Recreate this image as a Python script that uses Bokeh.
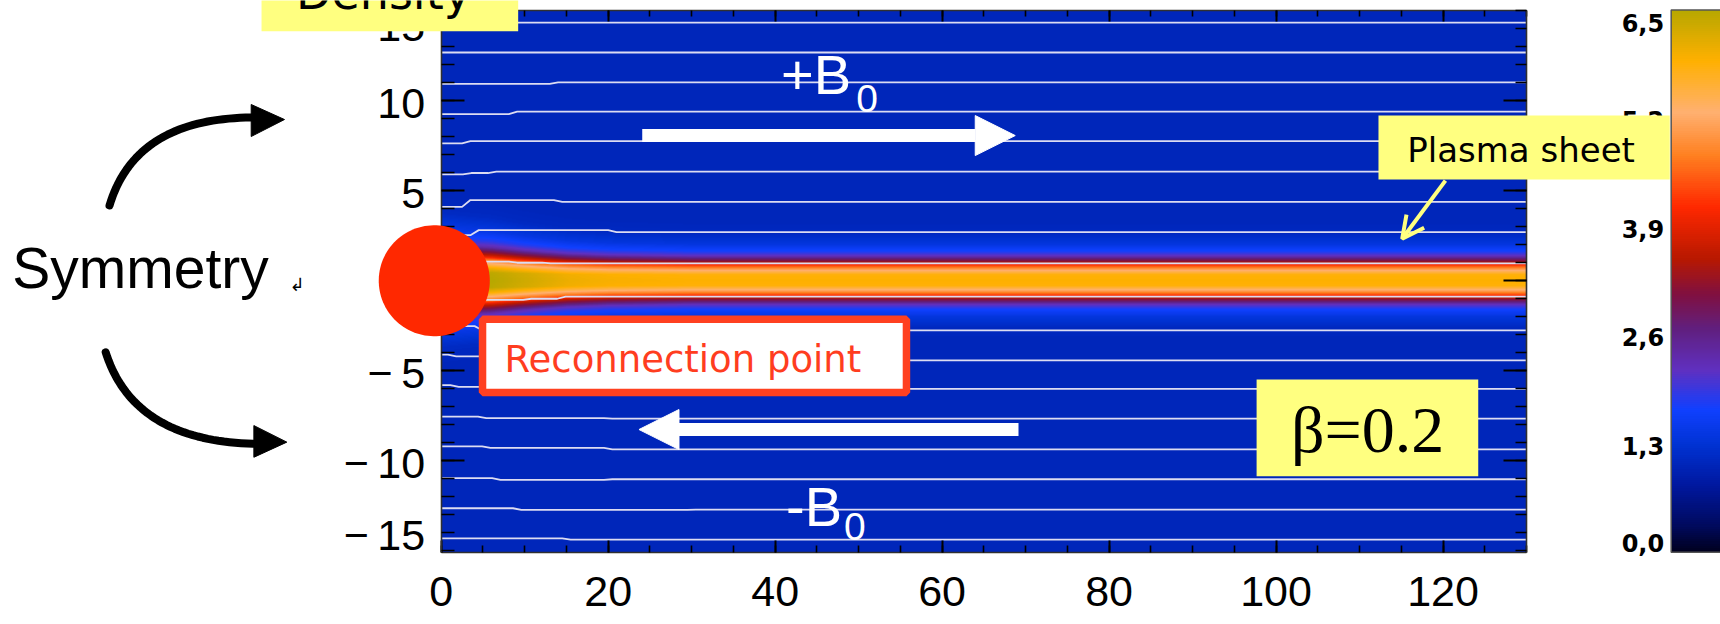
import numpy as np
from bokeh.plotting import figure
from bokeh.models import (LinearColorMapper, LinearAxis, Range1d, SingleIntervalTicker, FixedTicker,
                          Label, BoxAnnotation, PolyAnnotation, Arrow, NormalHead, OpenHead)
from bokeh.embed import file_html
from bokeh.resources import INLINE

# ---------------- data ----------------
X_RANGE = (0.0, 130.0)
Y_RANGE = (-15.1, 15.0)
X_TICK_INTERVAL = 20
Y_MAJOR_TICKS = [-15, -10, -5, 0, 5, 10, 15]
Y_MINOR_TICKS = list(range(-15, 16))
Y_TICK_LABELS = ["\u2212\u200915", "\u2212\u200910", "\u2212\u20095", "0", "5", "10", "15"]
CB_TICKS = [0.0, 1.3, 2.6, 3.9, 5.2, 6.5]
CB_TICK_LABELS = ["0,0", "1,3", "2,6", "3,9", "5,2", "6,5"]
CB_RANGE = (0.0, 6.5)

# colour table (value -> colour)
CMAP_VALUES = [0.0, 0.32, 0.8, 1.27, 1.70, 2.18, 2.66, 3.09, 3.52, 4.14, 4.76, 5.28, 5.9, 6.43, 6.5]
CMAP_COLORS = ["#000020", "#000a60", "#0018a0", "#0032d2", "#1040ff", "#6030c0", "#602080",
               "#801040", "#b81800", "#ff2800", "#ff8020", "#ffb070", "#ffb000", "#c0a800", "#b8a800"]

# density across the plasma sheet (|y|) far from the x-line
SHEET_ABS_Y = [0.0, 0.3, 0.5, 0.65, 0.85, 0.95, 1.05, 1.2, 1.35, 1.6, 2.0, 2.6, 3.2, 15.2]
SHEET_DENSITY = [5.9, 5.85, 5.4, 4.9, 4.2, 3.6, 3.2, 2.7, 2.2, 1.75, 1.4, 1.12, 1.06, 1.05]
BACKGROUND_DENSITY = 1.05
# thickening and peak of the sheet near the reconnection point
SHEET_X = [0, 6, 10, 15, 20, 30, 130]
SHEET_WIDTH = [1.45, 1.35, 1.22, 1.1, 1.04, 1.0, 1.0]
SHEET_PEAK = [6.5, 6.5, 6.3, 6.05, 5.95, 5.9, 5.9]

# magnetic field lines: levels and the x where each level steps
FIELD_LEVELS = [[14.30], [12.64], [10.90, 10.98], [9.22, 9.36], [7.60, 7.72],
                [5.88, 5.95, 6.03], [4.07, 4.45, 4.35], [2.50, 2.78, 2.67], [1.03, 0.97, 0.93],
                [-1.09, -1.03, -0.91], [-2.55, -2.79], [-4.13, -4.23, -4.45], [-5.83, -5.92, -6.03],
                [-7.57, -7.66, -7.69], [-9.22, -9.31, -9.39], [-10.99, -11.08, -11.05],
                [-12.66, -12.75, -12.74], [-14.33, -14.40]]
FIELD_BREAKS = [[], [], [13.5], [8.6], [3.0],
                [3.1, 6.1], [3.0, 14.0], [4.0, 20.5], [8.6, 12.6],
                [10.3, 14.4], [4.5], [1.3, 20.0], [1.6, 20.0],
                [4.9, 20.0], [5.4, 20.0], [6.6, 20.0],
                [9.1, 30.0], [15.0]]

# ---------------- page layout (pixels) ----------------
W, H = 1720, 624
FRAME_LEFT, FRAME_RIGHT = 440.7, 1526.0     # where x = 0 and x = 130 fall
FRAME_TOP, FRAME_BOTTOM = 9.5, 551.7        # where y = 15 and y = -15.1 fall
kx = (FRAME_RIGHT - FRAME_LEFT) / (X_RANGE[1] - X_RANGE[0])
ky = (FRAME_BOTTOM - FRAME_TOP) / (Y_RANGE[1] - Y_RANGE[0])
x_lo = X_RANGE[0] - FRAME_LEFT / kx
x_hi = x_lo + W / kx
y_hi = Y_RANGE[1] + FRAME_TOP / ky
y_lo = y_hi - H / ky
cb_scale = (CB_RANGE[1] - CB_RANGE[0]) / (Y_RANGE[1] - Y_RANGE[0])
cb_lo = CB_RANGE[0] + (y_lo - Y_RANGE[0]) * cb_scale
cb_hi = CB_RANGE[0] + (y_hi - Y_RANGE[0]) * cb_scale
kcb = ky / cb_scale
CB_LEFT = 147.33            # colour bar left edge, in x units
CB_RIGHT = x_hi + 5

def lift(size_px):
    """vertical correction (data units) so that a label's baseline sits at its y"""
    return 0.34 * size_px / ky

def shifted(lo, hi, down_px, k):
    """same range, drawn down_px pixels lower (used to nudge tick labels like the original)"""
    d = down_px / k
    return Range1d(lo + d, hi + d)

# ---------------- colour mapper ----------------
def hex2rgb(h):
    return [int(h[i:i + 2], 16) for i in (1, 3, 5)]

rgb = np.array([hex2rgb(c) for c in CMAP_COLORS], dtype=float)
levels = np.linspace(CB_RANGE[0], CB_RANGE[1], 256)
palette = []
for v in levels:
    r, g, b = (np.interp(v, CMAP_VALUES, rgb[:, k]) for k in range(3))
    palette.append("#%02x%02x%02x" % (int(round(r)), int(round(g)), int(round(b))))
mapper = LinearColorMapper(palette=palette, low=CB_RANGE[0], high=CB_RANGE[1])

# ---------------- density raster ----------------
nx, ny = 520, 542
xs = np.linspace(X_RANGE[0], X_RANGE[1], nx)
ys = np.linspace(Y_RANGE[0], Y_RANGE[1], ny)
w = np.interp(xs, SHEET_X, SHEET_WIDTH)
pk = np.interp(xs, SHEET_X, SHEET_PEAK)
prof = np.interp(np.abs(ys)[:, None] / w[None, :], SHEET_ABS_Y, SHEET_DENSITY)
dens = BACKGROUND_DENSITY + (prof - BACKGROUND_DENSITY) * (pk[None, :] - BACKGROUND_DENSITY) / (SHEET_DENSITY[0] - BACKGROUND_DENSITY)

# ---------------- figure ----------------
p = figure(width=W, height=H, x_range=Range1d(x_lo, x_hi), y_range=Range1d(y_lo, y_hi),
           min_border=0, toolbar_location=None, output_backend="svg",
           x_axis_location=None, y_axis_location=None)
p.outline_line_color = None
p.grid.visible = False
p.background_fill_color = "white"
p.border_fill_color = "white"
p.extra_y_ranges = {
    "ylab_mid": shifted(y_lo, y_hi, 2.5, ky),
    "ylab_top": shifted(y_lo, y_hi, 16.5, ky),
    "ylab_bot": shifted(y_lo, y_hi, -15.0, ky),
    "cb_mid": shifted(cb_lo, cb_hi, 2.0, kcb),
    "cb_top": shifted(cb_lo, cb_hi, 12.5, kcb),
    "cb_bot": shifted(cb_lo, cb_hi, -9.7, kcb),
}

p.image(image=[dens], x=X_RANGE[0], y=Y_RANGE[0], dw=X_RANGE[1] - X_RANGE[0], dh=Y_RANGE[1] - Y_RANGE[0],
        color_mapper=mapper)

# field lines
fl_x, fl_y = [], []
for lev, brk in zip(FIELD_LEVELS, FIELD_BREAKS):
    vx, vy = [X_RANGE[0]], [lev[0]]
    for k, b in enumerate(brk):
        vx += [b - 0.5, b + 0.5]
        vy += [lev[k], lev[k + 1]]
    vx.append(X_RANGE[1])
    vy.append(lev[-1])
    fl_x.append(vx)
    fl_y.append(vy)
p.multi_line(fl_x, fl_y, line_color="#dcdcf2", line_width=1.8)

# colour bar (image of the colour table on its own value range)
cb_vals = np.linspace(CB_RANGE[0], CB_RANGE[1], 256)[:, None]
p.image(image=[cb_vals], x=CB_LEFT, y=Y_RANGE[0], dw=CB_RIGHT - CB_LEFT, dh=Y_RANGE[1] - Y_RANGE[0],
        color_mapper=mapper)
p.add_layout(BoxAnnotation(left=CB_LEFT, right=CB_RIGHT, bottom=Y_RANGE[0], top=Y_RANGE[1], fill_alpha=0,
                           line_color="#555555", line_alpha=1.0, line_width=1.5))

FONT = "Liberation Sans"

def box_axis(ax, mj, mn, labels=True):
    ax.major_tick_in = mj
    ax.major_tick_out = 0
    ax.minor_tick_in = mn
    ax.minor_tick_out = 0
    ax.major_tick_line_width = 2
    ax.minor_tick_line_width = 1.6
    ax.major_tick_line_color = "black"
    ax.minor_tick_line_color = "black"
    ax.axis_line_color = "#303030"
    ax.axis_line_width = 1.6
    if labels:
        ax.major_label_text_font = FONT
        ax.major_label_text_font_size = "43px"
        ax.major_label_text_color = "black"
    else:
        ax.major_label_text_color = None
        ax.major_label_standoff = 0

def label_axis(range_name, loc, ticks, labels, font, size, standoff, style="normal"):
    """an axis that only carries tick labels"""
    return LinearAxis(y_range_name=range_name, fixed_location=loc, ticker=FixedTicker(ticks=ticks),
                      major_label_overrides=dict(zip(ticks, labels)), axis_line_color=None,
                      major_tick_line_color=None, minor_tick_line_color=None,
                      major_tick_in=0, major_tick_out=0, minor_tick_in=0, minor_tick_out=0,
                      major_label_standoff=standoff, major_label_text_font=font,
                      major_label_text_font_size=size, major_label_text_font_style=style,
                      major_label_text_color="black")

xa = LinearAxis(fixed_location=Y_RANGE[0], bounds=X_RANGE,
                ticker=SingleIntervalTicker(interval=X_TICK_INTERVAL, num_minor_ticks=4))
box_axis(xa, 12, 7)
xa.major_label_standoff = 25
p.add_layout(xa, "below")

ya = LinearAxis(fixed_location=X_RANGE[0], bounds=Y_RANGE,
                ticker=FixedTicker(ticks=Y_MAJOR_TICKS[1:-1], minor_ticks=Y_MINOR_TICKS))
box_axis(ya, 23, 13, labels=False)
p.add_layout(ya, "left")
ylabels = dict(zip(Y_MAJOR_TICKS, Y_TICK_LABELS))
for name, ticks in (("ylab_mid", Y_MAJOR_TICKS[1:-1]), ("ylab_top", Y_MAJOR_TICKS[-1:]),
                    ("ylab_bot", Y_MAJOR_TICKS[:1])):
    p.add_layout(label_axis(name, X_RANGE[0], ticks, [ylabels[t] for t in ticks], FONT, "43px", 16), "left")

top = LinearAxis(fixed_location=Y_RANGE[1], bounds=X_RANGE,
                 ticker=SingleIntervalTicker(interval=X_TICK_INTERVAL, num_minor_ticks=4))
box_axis(top, 11, 6, labels=False)
p.add_layout(top, "above")

right = LinearAxis(fixed_location=X_RANGE[1], bounds=Y_RANGE,
                   ticker=FixedTicker(ticks=Y_MAJOR_TICKS[1:-1], minor_ticks=Y_MINOR_TICKS))
box_axis(right, 23, 11, labels=False)
p.add_layout(right, "right")

cblabels = dict(zip(CB_TICKS, CB_TICK_LABELS))
for name, ticks in (("cb_mid", CB_TICKS[1:-1]), ("cb_top", CB_TICKS[-1:]), ("cb_bot", CB_TICKS[:1])):
    p.add_layout(label_axis(name, CB_LEFT, ticks, [cblabels[t] for t in ticks], "DejaVu Sans", "24px", 7,
                            style="bold"), "left")

# ---------------- annotations ----------------
YELLOW = "#ffff80"
GEO = "DejaVu Sans"

# white field-direction arrows and labels
p.add_layout(Arrow(end=NormalHead(size=40, fill_color="white", line_color="white"),
                   x_start=24.08, y_start=8.03, x_end=68.76, y_end=8.03, line_color="white", line_width=13))
p.add_layout(Arrow(end=NormalHead(size=40, fill_color="white", line_color="white"),
                   x_start=69.15, y_start=-8.29, x_end=23.69, y_end=-8.29, line_color="white", line_width=13))
p.add_layout(Label(x=40.70, y=10.35 + lift(56), text="+B", text_color="white", text_font=FONT,
                   text_font_size="56px", text_baseline="alphabetic"))
p.add_layout(Label(x=49.71, y=9.37 + lift(39), text="0", text_color="white", text_font=FONT,
                   text_font_size="39px", text_baseline="alphabetic"))
p.add_layout(Label(x=41.30, y=-13.62 + lift(56), text="-B", text_color="white", text_font=FONT,
                   text_font_size="56px", text_baseline="alphabetic"))
p.add_layout(Label(x=48.25, y=-14.40 + lift(39), text="0", text_color="white", text_font=FONT,
                   text_font_size="39px", text_baseline="alphabetic"))

# reconnection point
t = np.linspace(0, 2 * np.pi, 120)
p.add_layout(PolyAnnotation(xs=list(-0.83 + 6.65 * np.cos(t)), ys=list(-0.03 + 3.08 * np.sin(t)),
                            fill_color="#ff2800", fill_alpha=1.0, line_color=None))
p.add_layout(BoxAnnotation(left=4.95, right=55.73, top=-2.17, bottom=-6.235, fill_color="white",
                           fill_alpha=1.0, line_color="#ff4020", line_alpha=1.0, line_width=7.5))
p.add_layout(Label(x=7.58, y=-5.11 + lift(37), text="Reconnection point", text_color="#ff3d1f",
                   text_font=GEO, text_font_size="37px", text_baseline="alphabetic"))

# plasma sheet callout
p.add_layout(BoxAnnotation(left=112.27, right=147.16, top=9.14, bottom=5.59, fill_color=YELLOW,
                           fill_alpha=1.0, line_color=None))
p.add_layout(Label(x=115.71, y=6.59 + lift(34), text="Plasma sheet", text_color="black", text_font=GEO,
                   text_font_size="34px", text_baseline="alphabetic"))
p.add_layout(Arrow(end=OpenHead(size=22, line_color=YELLOW, line_width=4), x_start=120.29, y_start=5.53,
                   x_end=115.11, y_end=2.30, line_color=YELLOW, line_width=4))

# beta label
p.add_layout(BoxAnnotation(left=97.67, right=124.22, top=-5.51, bottom=-10.88, fill_color=YELLOW,
                           fill_alpha=1.0, line_color=None))
p.add_layout(Label(x=110.96, y=-9.55 + lift(66), text="\u03b2=0.2", text_color="black",
                   text_font="Liberation Serif", text_font_size="66px", text_align="center",
                   text_baseline="alphabetic"))

# density title box
p.add_layout(BoxAnnotation(left=-21.52, right=9.22, top=y_hi + 1, bottom=13.82, fill_color=YELLOW,
                           fill_alpha=1.0, line_color=None))
p.add_layout(Label(x=-17.39, y=15.055 + lift(46), text="Density", text_color="black", text_font=GEO,
                   text_font_size="46px", text_baseline="alphabetic"))

# symmetry label and curved arrows
p.add_layout(Label(x=-51.37, y=-0.38 + lift(57), text="Symmetry", text_color="black", text_font=FONT,
                   text_font_size="57px", text_baseline="alphabetic"))
p.add_layout(Label(x=-18.17, y=-0.57 + lift(18), text="\u21b2", text_color="black", text_font="DejaVu Sans",
                   text_font_size="18px", text_baseline="alphabetic"))

s = np.linspace(0, 1, 40)
for (x0, y0), (x1, y1), (x2, y2), (tipx, tipy), (bx, by0, by1) in (
        ((-39.73, 4.147), (-36.62, 8.976), (-22.72, 9.032), (-18.77, 8.92), (-22.76, 9.754, 7.977)),
        ((-40.19, -4.0), (-36.86, -8.90), (-22.53, -9.08), (-18.49, -8.99), (-22.44, -8.07, -9.83))):
    cx = (1 - s) ** 2 * x0 + 2 * (1 - s) * s * x1 + s ** 2 * x2
    cy = (1 - s) ** 2 * y0 + 2 * (1 - s) * s * y1 + s ** 2 * y2
    p.add_layout(PolyAnnotation(xs=list(cx) + list(cx[::-1]), ys=list(cy) + list(cy[::-1]),
                                fill_alpha=0, line_color="black", line_alpha=1.0, line_width=8,
                                line_join="round"))
    p.add_layout(PolyAnnotation(xs=[bx, tipx, bx], ys=[by0, tipy, by1], fill_color="black", fill_alpha=1.0,
                                line_color="black", line_alpha=1.0, line_width=1))

open("out.html", "w").write(file_html(p, INLINE))
